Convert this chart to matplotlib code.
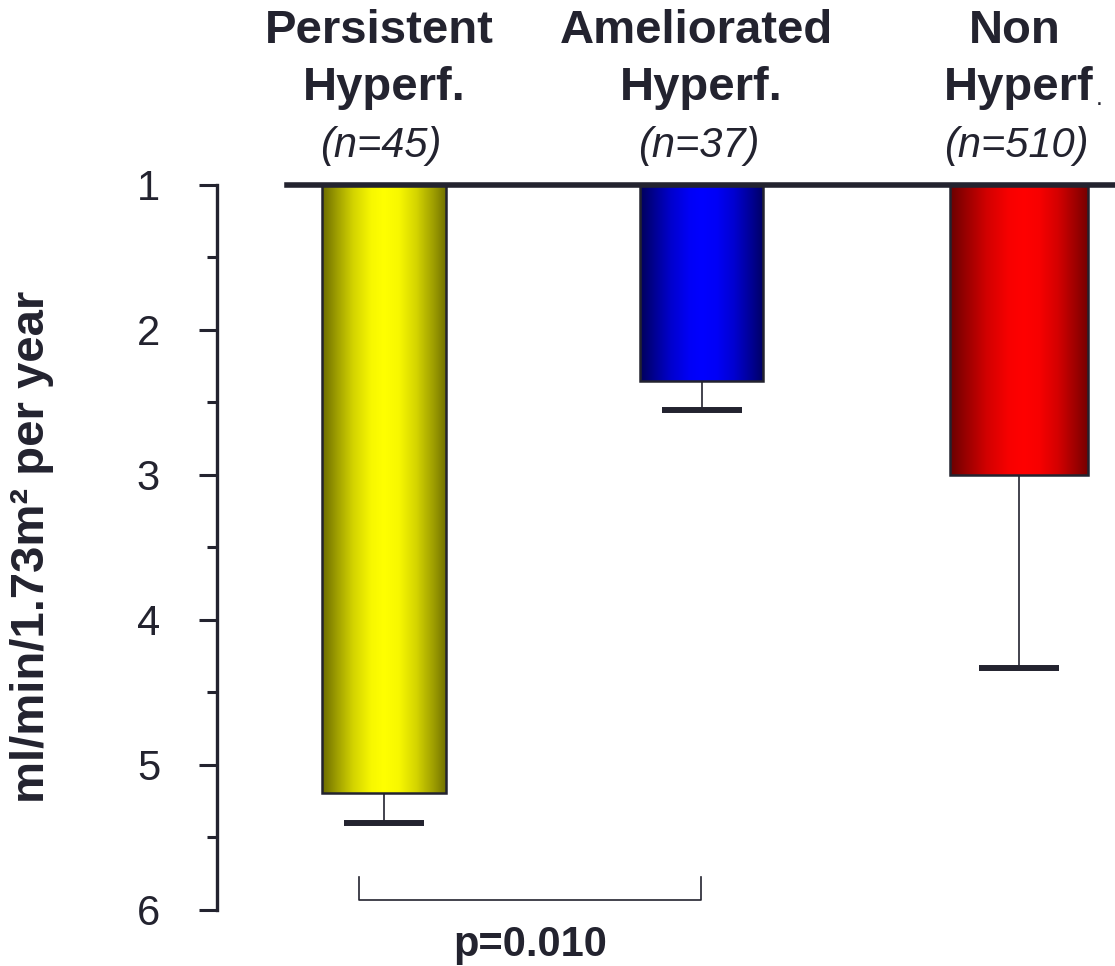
"""GFR decline by hyperfiltration group."""

import matplotlib
matplotlib.use("Agg")
import matplotlib.pyplot as plt
import numpy as np
from matplotlib.colors import LinearSegmentedColormap, to_rgb
from matplotlib.transforms import blended_transform_factory

plt.rcParams["font.family"] = ["Liberation Sans", "DejaVu Sans"]

groups = ["Persistent", "Ameliorated", "Non"]
group_sub = ["Hyperf.", "Hyperf.", "Hyperf"]
group_n = ["(n=45)", "(n=37)", "(n=510)"]
decline = [5.19, 2.35, 3.00]
decline_se = [0.21, 0.20, 1.33]
p_label = "p=0.010"
y_ticks = [1, 2, 3, 4, 5, 6]

INK = "#23232f"
# dark edge colour, bright core colour, and where the core sits across the bar
shades = [
    ("#6b6b00", "#ffff00", 0.50),
    ("#00005a", "#0000ff", 0.50),
    ("#6a0000", "#ff0000", 0.53),
]
bar_widths = [0.39, 0.39, 0.435]
# brightness across a bar: (position, share of bright colour)
profile = [(0.0, 0.0), (0.12, 0.35), (0.25, 0.7), (0.4, 0.95), (0.5, 1.0),
           (0.62, 0.95), (0.76, 0.72), (0.9, 0.35), (1.0, 0.05)]

fig = plt.figure(figsize=(11.15, 9.66), dpi=100)
ax = fig.add_axes([217 / 1115, 1 - 910 / 966, 1 - 217 / 1115, (910 - 185) / 966])

x = np.arange(len(groups))
bars = ax.bar(
    x,
    [v - 1 for v in decline],
    bottom=1,
    width=bar_widths,
    facecolor="none",
    edgecolor=INK,
    linewidth=1.8,
    zorder=3,
)

grad = np.linspace(0, 1, 256).reshape(1, -1)
for patch, (dark, bright, core) in zip(bars, shades):
    d, b = np.array(to_rgb(dark)), np.array(to_rgb(bright))
    stops = []
    for pos, mix in profile:
        # shift the core position while keeping the edges fixed
        p = pos * core / 0.5 if pos <= 0.5 else core + (pos - 0.5) * (1 - core) / 0.5
        stops.append((p, tuple(d + (b - d) * mix)))
    cmap = LinearSegmentedColormap.from_list("shade", stops)
    x0, y0 = patch.get_x(), patch.get_y()
    w, h = patch.get_width(), patch.get_height()
    im = ax.imshow(
        grad, cmap=cmap, extent=(x0, x0 + w, y0 + h, y0),
        aspect="auto", interpolation="bilinear", zorder=2,
    )
    im.set_clip_path(patch)

# error bars point downward only
lower = [v + e for v, e in zip(decline, decline_se)]
ax.vlines(x, decline, lower, color=INK, linewidth=1.2, zorder=1)
ax.hlines(lower, x - 0.126, x + 0.126, color=INK, linewidth=4.3, zorder=4)

ax.set_xlim(-0.526, 2.302)
ax.set_ylim(6, 1)
ax.axhline(1, xmin=(287 - 217) / 898, xmax=1, color=INK, linewidth=4.0,
           clip_on=False, zorder=5)

for side in ["top", "right", "bottom"]:
    ax.spines[side].set_visible(False)
ax.spines["left"].set_color(INK)
ax.spines["left"].set_linewidth(2.4)
ax.set_xticks([])
ax.set_yticks(y_ticks)
ax.set_yticks(np.arange(1.5, 6, 1), minor=True)
ax.tick_params(axis="y", which="major", length=13, width=2.2, color=INK,
               labelsize=30, labelcolor=INK, pad=28)
ax.tick_params(axis="y", which="minor", length=7, width=2.2, color=INK)

fig.text(32 / 1115, 1 - 547 / 966, "ml/min/1.73m² per year", rotation=90,
         ha="center", va="center", fontsize=34, fontweight="bold", color=INK)

# group headers above the bars
tr = blended_transform_factory(ax.transData, fig.transFigure)
for xi, name, sub, n in zip(x, groups, group_sub, group_n):
    ax.text(xi - 0.015, 1 - 43 / 966, name, transform=tr, ha="center",
            va="baseline", fontsize=34, fontweight="bold", color=INK)
    t = ax.text(xi, 1 - 100 / 966, sub, transform=tr, ha="center",
                va="baseline", fontsize=34, fontweight="bold", color=INK)
    ax.text(xi - 0.01, 1 - 157 / 966, n, transform=tr, ha="center",
            va="baseline", fontsize=30, fontstyle="italic", color=INK)
    if not sub.endswith("."):
        ax.annotate(".", xy=(1, 0), xycoords=t, xytext=(1, 0),
                    textcoords="offset points", ha="left", va="bottom",
                    fontsize=18, color=INK)

# significance bracket between the first two groups
bx0, bx1 = x[0] - 0.079, x[1] - 0.001
ax.plot([bx0, bx0, bx1, bx1], [5.77, 5.93, 5.93, 5.77], color=INK,
        linewidth=1.2, clip_on=False)
ax.text((bx0 + bx1) / 2, 6.32, p_label, ha="center", va="baseline",
        fontsize=30, fontweight="bold", color=INK, clip_on=False)

fig.savefig("out.png", dpi=100)
